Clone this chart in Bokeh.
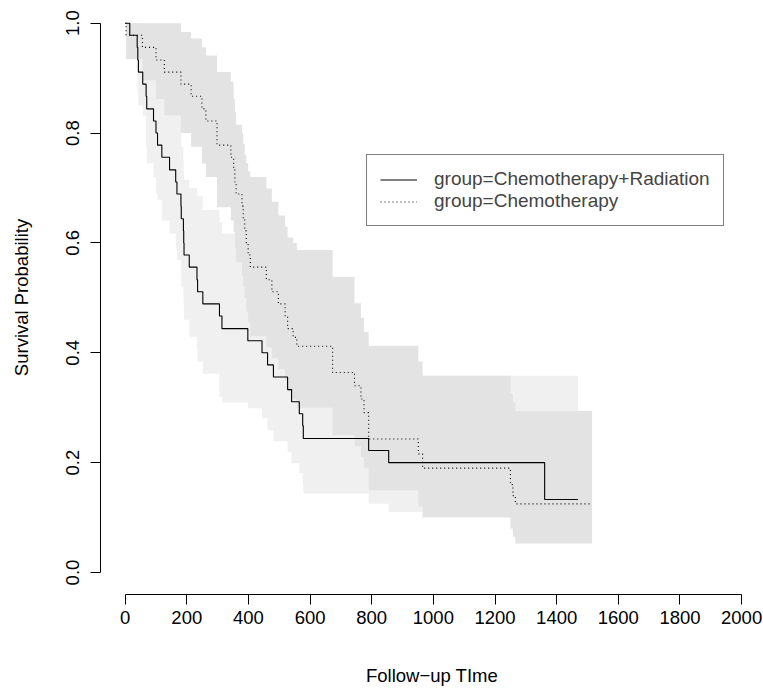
from bokeh.plotting import figure
from bokeh.models import FixedTicker, PrintfTickFormatter, Legend, LegendItem, Range1d, ColumnDataSource
from bokeh.embed import file_html
from bokeh.resources import INLINE

# ---- Chemotherapy+Radiation (solid) ----
solid_t = [0, 15, 39, 41, 43, 57, 68, 70, 92, 100, 105, 119, 144, 164, 168, 181, 182, 189, 190, 191,
           208, 233, 235, 252, 306, 314, 398, 444, 462, 481, 527, 540, 565, 576, 578, 790, 855, 1361, 1469]
solid_s = [1.0, .978, .956, .933, .911, .889, .867, .844, .822, .800, .778, .756, .733, .711, .689, .667, .644, .622, .600, .578,
           .556, .533, .511, .489, .467, .444, .422, .400, .378, .356, .333, .311, .289, .267, .244, .222, .200, .133, .133]
solid_up = [1, 1, 1, 1, 1, .99, .98, .97, .955, .94, .925, .91, .895, .88, .865, .80, .775, .75, .73, .715,
            .70, .695, .685, .66, .638, .617, .595, .57, .548, .525, .50, .478, .455, .43, .405, .38, .358, .358, .358]
solid_lo = [1, .935, .90, .87, .85, .832, .775, .745, .72, .69, .678, .641, .617, .59, .569, .545, .52, .50, .478, .46,
            .429, .405, .384, .362, .32, .31, .299, .281, .259, .239, .22, .199, .181, .16, .144, .125, .11, .055, .055]

# ---- Chemotherapy (dotted) ----
dot_t = [0, 3, 56, 100, 127, 181, 214, 249, 262, 298, 343, 352, 356, 360, 379, 383, 388, 393, 399, 406,
         458, 476, 497, 519, 527, 545, 557, 673, 744, 765, 775, 790, 951, 965, 1250, 1258, 1266, 1515]
dot_s = [1.0, .978, .956, .933, .911, .889, .867, .844, .822, .778, .756, .733, .711, .689, .667, .644, .622, .600, .578, .556,
         .533, .511, .489, .467, .444, .428, .412, .364, .340, .316, .291, .243, .216, .190, .160, .140, .125, .125]
dot_up = [1, 1, 1, 1, 1, .984, .972, .956, .941, .911, .893, .862, .838, .815, .80, .78, .76, .745, .73, .72,
          .699, .675, .65, .63, .61, .60, .587, .538, .49, .464, .438, .413, .384, .358, .326, .31, .294, .294]
dot_lo = [1, .935, .896, .862, .832, .80, .775, .744, .72, .665, .641, .62, .59, .565, .54, .52, .50, .475, .455, .43,
          .41, .39, .37, .35, .33, .315, .30, .25, .23, .21, .19, .15, .12, .10, .08, .065, .053, .053]

x_ticks = [0, 200, 400, 600, 800, 1000, 1200, 1400, 1600, 1800, 2000]
y_ticks = [0.0, 0.2, 0.4, 0.6, 0.8, 1.0]
labels = ["group=Chemotherapy+Radiation", "group=Chemotherapy"]

FONT = "Liberation Sans"
FS = "18.5px"

p = figure(width=763, height=688, output_backend="svg", toolbar_location=None,
           x_range=Range1d(-80, 2071), y_range=Range1d(-0.04, 1.0413),
           min_border_left=100, min_border_right=0, min_border_top=0, min_border_bottom=93)
p.outline_line_color = None
p.xgrid.visible = False
p.ygrid.visible = False
p.background_fill_color = "white"

src1 = ColumnDataSource(dict(t=solid_t, s=solid_s, u=solid_up, l=solid_lo))
src2 = ColumnDataSource(dict(t=dot_t, s=dot_s, u=dot_up, l=dot_lo))

p.varea_step(x="t", y1="l", y2="u", source=src1, step_mode="after", fill_color="#F0F0F0")
p.varea_step(x="t", y1="l", y2="u", source=src2, step_mode="after", fill_color="#E3E3E3")

r1 = p.step(x="t", y="s", source=src1, mode="after", line_color="black", line_width=1.1)
r2 = p.step(x="t", y="s", source=src2, mode="after", line_color="black", line_width=1.1, line_dash="1 3")

for ax in (p.xaxis[0], p.yaxis[0]):
    ax.axis_line_color = "black"
    ax.major_tick_line_color = "black"
    ax.minor_tick_line_color = None
    ax.major_tick_in = 0
    ax.major_tick_out = 10
    ax.major_label_text_font = FONT
    ax.major_label_text_font_size = FS
    ax.major_label_text_color = "black"
    ax.axis_label_text_font = FONT
    ax.axis_label_text_font_size = FS
    ax.axis_label_text_font_style = "normal"
    ax.axis_label_text_color = "black"

p.xaxis.ticker = FixedTicker(ticks=x_ticks)
p.xaxis.bounds = (0, 2000)
p.xaxis.major_label_standoff = 6
p.xaxis.axis_label = "Follow\u2212up TIme"
p.xaxis.axis_label_standoff = 38

p.yaxis.ticker = FixedTicker(ticks=y_ticks)
p.yaxis.formatter = PrintfTickFormatter(format="%.1f")
p.yaxis.bounds = (0, 1)
p.yaxis.major_label_orientation = "vertical"
p.yaxis.major_label_standoff = 11
p.yaxis.axis_label = "Survival Probability"
p.yaxis.axis_label_standoff = 32

legend = Legend(items=[LegendItem(label=labels[0], renderers=[r1]),
                       LegendItem(label=labels[1], renderers=[r2])],
                location=(266, 368))
legend.border_line_color = "black"
legend.border_line_width = 1
legend.background_fill_alpha = 1
legend.label_text_font = FONT
legend.label_text_font_size = "19px"
legend.glyph_width = 37
legend.glyph_height = 21
legend.label_height = 21
legend.label_standoff = 17
legend.spacing = 0
legend.padding = 13
legend.margin = 0
p.add_layout(legend)

open("out.html", "w").write(file_html(p, INLINE))
